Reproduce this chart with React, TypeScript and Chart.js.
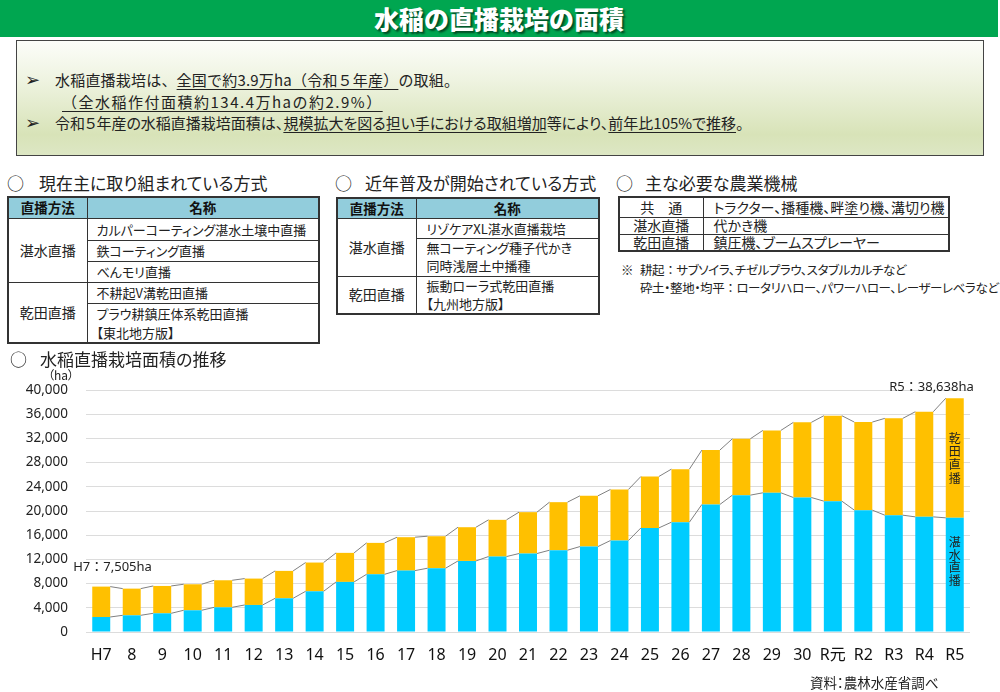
import React, { useEffect, useRef } from "react";
import { Chart, registerables } from "chart.js";

Chart.register(...registerables);

// ---- data ----
const years = ["H7", "8", "9", "10", "11", "12", "13", "14", "15", "16", "17", "18", "19", "20", "21", "22", "23", "24", "25", "26", "27", "28", "29", "30", "R元", "R2", "R3", "R4", "R5"];
// 湛水直播 (ha)
const tanzui = [2480, 2760, 3090, 3590, 4080, 4470, 5570, 6730, 8280, 9540, 10150, 10540, 11750, 12470, 12970, 13520, 14120, 15120, 17210, 18150, 21080, 22620, 23010, 22230, 21630, 20140, 19310, 19030, 18870];
// 乾田直播 (ha)
const kanden = [5025, 4410, 4520, 4300, 4470, 4360, 4530, 4750, 4800, 5190, 5520, 5290, 5570, 6070, 6840, 7940, 8390, 8440, 8500, 8770, 8990, 9320, 10310, 12420, 14120, 14560, 16000, 17380, 19768];
const yMax = 40000;
const yStep = 4000;
const firstNote = "H7：7,505ha";
const lastNote = "R5：38,638ha";
const kandenLabel = "乾田直播";
const tanzuiLabel = "湛水直播";

const JP = "'Noto Sans CJK JP', 'Noto Sans', sans-serif";
const NUM = "'Noto Sans', 'Noto Sans CJK JP', sans-serif";

const connectorPlugin = {
  id: "connectors",
  afterDatasetsDraw(chart: any) {
    const ctx = chart.ctx;
    ctx.save();
    ctx.strokeStyle = "#808080";
    ctx.lineWidth = 1;
    for (let d = 0; d < 2; d++) {
      const els = chart.getDatasetMeta(d).data;
      ctx.beginPath();
      for (let i = 0; i < els.length - 1; i++) {
        const a = els[i];
        const b = els[i + 1];
        ctx.moveTo(a.x + a.width / 2, a.y);
        ctx.lineTo(b.x - b.width / 2, b.y);
      }
      ctx.stroke();
    }
    ctx.restore();
  },
};

const notePlugin = {
  id: "notes",
  afterDraw(chart: any) {
    const ctx = chart.ctx;
    const top = chart.getDatasetMeta(1).data;
    const bot = chart.getDatasetMeta(0).data;
    const first = top[0];
    const last = top[top.length - 1];
    const lastB = bot[bot.length - 1];
    ctx.save();
    ctx.fillStyle = "#222";
    ctx.textBaseline = "middle";
    ctx.font = `13px ${NUM}`;
    ctx.textAlign = "left";
    ctx.fillText(firstNote, first.x - 28, first.y - 19);
    ctx.textAlign = "right";
    ctx.fillText(lastNote, last.x + 19, last.y - 11);
    ctx.textAlign = "center";
    ctx.font = `12px ${JP}`;
    const c1 = (last.y + last.base) / 2;
    for (let i = 0; i < kandenLabel.length; i++) {
      ctx.fillText(kandenLabel[i], last.x, c1 + (i - 1.5) * 13.3);
    }
    const c2 = (lastB.y + lastB.base) / 2 - 13;
    for (let i = 0; i < tanzuiLabel.length; i++) {
      ctx.fillText(tanzuiLabel[i], lastB.x, c2 + (i - 1.5) * 12.5);
    }
    ctx.restore();
  },
};

function BarChart() {
  const ref = useRef<HTMLCanvasElement | null>(null);
  useEffect(() => {
    if (!ref.current) return;
    const chart = new Chart(ref.current, {
      type: "bar",
      data: {
        labels: years,
        datasets: [
          { label: tanzuiLabel, data: tanzui, backgroundColor: "#00CCFF", barPercentage: 0.59, categoryPercentage: 1 },
          { label: kandenLabel, data: kanden, backgroundColor: "#FFC000", barPercentage: 0.59, categoryPercentage: 1 },
        ],
      },
      options: {
        animation: false,
        responsive: false,
        maintainAspectRatio: false,
        layout: { padding: { top: 30, right: 30, bottom: 0, left: 0 } },
        plugins: { legend: { display: false }, tooltip: { enabled: false } },
        scales: {
          x: {
            stacked: true,
            grid: { display: false, drawTicks: false },
            border: { display: false },
            ticks: { color: "#111", font: { family: NUM, size: 16 }, padding: 14, maxRotation: 0, autoSkip: false },
            afterFit: (s: any) => { s.height = 60; },
          },
          y: {
            stacked: true,
            min: 0,
            max: yMax,
            ticks: {
              stepSize: yStep,
              color: "#222",
              font: { family: NUM, size: 13.5 },
              padding: 18,
              callback: (v: any) => Number(v).toLocaleString("en-US"),
            },
            grid: { color: "#dcdcdc", drawTicks: false, lineWidth: 1 },
            border: { display: false },
            afterFit: (s: any) => { s.width = 86; },
          },
        },
      } as any,
      plugins: [connectorPlugin, notePlugin],
    });
    return () => chart.destroy();
  }, []);
  return <canvas ref={ref} width={1000} height={332} style={{ position: "absolute", left: 0, top: 360, width: 1000, height: 332 }} />;
}

const cell: React.CSSProperties = { border: "1px solid #333", padding: 0, fontSize: 13, color: "#222", whiteSpace: "nowrap", overflow: "visible" };
const head: React.CSSProperties = { ...cell, fontSize: 13.5, background: "#92CDDC", fontWeight: 700, textAlign: "center", color: "#111" };

function SectionTitle({ x, cx, y, text }: { x: number; cx: number; y: number; text: string }) {
  return (
    <>
      <div style={{ position: "absolute", left: cx, top: y - 11, fontSize: 17, lineHeight: "22px", color: "#222", fontFamily: JP }}>○</div>
      <div style={{ position: "absolute", left: x, top: y - 11, fontSize: 17, lineHeight: "22px", color: "#222", fontFamily: JP, whiteSpace: "nowrap", fontFeatureSettings: "'palt'" }}>{text}</div>
    </>
  );
}

const U = ({ children }: { children: React.ReactNode }) => (
  <span style={{ textDecoration: "underline", textUnderlineOffset: "3px" }}>{children}</span>
);

export default function App() {
  const lineStyle = (y: number, x: number): React.CSSProperties => ({
    position: "absolute", left: x, top: y - 11, lineHeight: "22px", fontSize: 15, color: "#222", whiteSpace: "nowrap",
  });
  const bullet: React.CSSProperties = { fontFamily: "'DejaVu Sans', sans-serif", fontSize: 18, color: "#222" };
  const note: React.CSSProperties = { position: "absolute", left: 640, fontSize: 12.5, lineHeight: "18px", color: "#222", whiteSpace: "nowrap", fontFeatureSettings: "'palt'", letterSpacing: "-0.4px" };
  return (
    <div style={{ position: "fixed", left: 0, top: 0, width: 1000, height: 692, background: "#fff", overflow: "hidden", fontFamily: JP }}>
      {/* header */}
      <div style={{ position: "absolute", left: 0, top: 0, width: 998, height: 37, background: "#00A650", color: "#fff", fontSize: 25, fontWeight: 900, textAlign: "center", lineHeight: "37px", textShadow: "2px 2px 2px rgba(0,0,0,0.55)" }}>
        水稲の直播栽培の面積
      </div>
      {/* summary box */}
      <div style={{ position: "absolute", left: 16, top: 40, width: 968, height: 116, boxSizing: "border-box", border: "1px solid #444", background: "linear-gradient(to bottom, #fcfdf9 0%, #eef3e0 35%, #d8e3b8 82%, #dde7c4 100%)" }} />
      <div style={{ ...lineStyle(80, 25), ...bullet }}>➢</div>
      <div style={{ ...lineStyle(80, 55), letterSpacing: "0.2px" }}>水稲直播栽培は、<U>全国で約3.9万ha（令和５年産）</U>の取組。</div>
      <div style={{ ...lineStyle(102, 62), letterSpacing: "1.5px" }}><U>（全水稲作付面積約134.4万haの約2.9%）</U></div>
      <div style={{ ...lineStyle(123, 25), ...bullet }}>➢</div>
      <div style={{ ...lineStyle(123, 55), fontFeatureSettings: "'palt'" }}>令和５年産の水稲直播栽培面積は、<U>規模拡大を図る担い手における取組増加</U>等により、<U>前年比105%で推移</U>。</div>

      {/* section titles */}
      <SectionTitle cx={7} x={39} y={183} text="現在主に取り組まれている方式" />
      <SectionTitle cx={335} x={365} y={183} text="近年普及が開始されている方式" />
      <SectionTitle cx={616} x={645} y={183} text="主な必要な農業機械" />

      {/* table 1 */}
      <table style={{ position: "absolute", left: 7, top: 196, width: 311, borderCollapse: "collapse", tableLayout: "fixed", border: "2px solid #333", fontFeatureSettings: "'palt'", lineHeight: "17px" }}>
        <colgroup><col style={{ width: 79 }} /><col style={{ width: 232 }} /></colgroup>
        <tbody>
          <tr style={{ height: 21 }}><td style={head}>直播方法</td><td style={head}>名称</td></tr>
          <tr style={{ height: 22 }}><td rowSpan={3} style={{ ...cell, fontSize: 14, textAlign: "center" }}>湛水直播</td><td style={{ ...cell, paddingLeft: 9 }}>カルパーコーティング湛水土壌中直播</td></tr>
          <tr style={{ height: 21 }}><td style={{ ...cell, paddingLeft: 9 }}>鉄コーティング直播</td></tr>
          <tr style={{ height: 21 }}><td style={{ ...cell, paddingLeft: 9 }}>べんモリ直播</td></tr>
          <tr style={{ height: 21 }}><td rowSpan={2} style={{ ...cell, fontSize: 14, textAlign: "center" }}>乾田直播</td><td style={{ ...cell, paddingLeft: 9 }}>不耕起V溝乾田直播</td></tr>
          <tr style={{ height: 39 }}><td style={{ ...cell, paddingLeft: 9, lineHeight: "19px" }}>プラウ耕鎮圧体系乾田直播<br />【東北地方版】</td></tr>
        </tbody>
      </table>

      {/* table 2 */}
      <table style={{ position: "absolute", left: 336, top: 197, width: 262, borderCollapse: "collapse", tableLayout: "fixed", border: "2px solid #333", fontFeatureSettings: "'palt'", lineHeight: "17px" }}>
        <colgroup><col style={{ width: 79 }} /><col style={{ width: 183 }} /></colgroup>
        <tbody>
          <tr style={{ height: 20 }}><td style={head}>直播方法</td><td style={head}>名称</td></tr>
          <tr style={{ height: 20 }}><td rowSpan={2} style={{ ...cell, fontSize: 14, textAlign: "center" }}>湛水直播</td><td style={{ ...cell, paddingLeft: 10 }}>リゾケアXL湛水直播栽培</td></tr>
          <tr style={{ height: 38 }}><td style={{ ...cell, paddingLeft: 10, lineHeight: "18px" }}>無コーティング種子代かき<br />同時浅層土中播種</td></tr>
          <tr style={{ height: 38 }}><td style={{ ...cell, fontSize: 14, textAlign: "center" }}>乾田直播</td><td style={{ ...cell, paddingLeft: 10, lineHeight: "18px" }}>振動ローラ式乾田直播<br />【九州地方版】</td></tr>
        </tbody>
      </table>

      {/* table 3 */}
      <table style={{ position: "absolute", left: 618, top: 196, width: 330, borderCollapse: "collapse", tableLayout: "fixed", border: "2px solid #333", fontFeatureSettings: "'palt'", lineHeight: "15px" }}>
        <colgroup><col style={{ width: 84 }} /><col style={{ width: 246 }} /></colgroup>
        <tbody>
          <tr style={{ height: 20 }}><td style={{ ...cell, fontSize: 14, textAlign: "center" }}>共　通</td><td style={{ ...cell, fontSize: 14, paddingLeft: 10 }}>トラクター、播種機、畔塗り機、溝切り機</td></tr>
          <tr style={{ height: 17 }}><td style={{ ...cell, fontSize: 14, textAlign: "center" }}>湛水直播</td><td style={{ ...cell, fontSize: 14, paddingLeft: 10 }}>代かき機</td></tr>
          <tr style={{ height: 17 }}><td style={{ ...cell, fontSize: 14, textAlign: "center" }}>乾田直播</td><td style={{ ...cell, fontSize: 14, paddingLeft: 10 }}>鎮圧機、ブームスプレーヤー</td></tr>
        </tbody>
      </table>
      <div style={{ position: "absolute", left: 621, top: 261, fontSize: 12.5, lineHeight: "18px", color: "#222" }}>※</div>
      <div style={{ ...note, top: 261 }}>耕起<span style={{ fontFeatureSettings: "normal" }}>：</span>サブソイラ、チゼルプラウ、スタブルカルチなど</div>
      <div style={{ ...note, top: 279 }}>砕土・整地・均平<span style={{ fontFeatureSettings: "normal" }}>：</span>ロータリハロー、パワーハロー、レーザーレベラなど</div>

      {/* chart */}
      <BarChart />
      <SectionTitle cx={10} x={40} y={359} text="水稲直播栽培面積の推移" />
      <div style={{ position: "absolute", left: 48, top: 368, fontSize: 12, lineHeight: "14px", color: "#222", fontFeatureSettings: "'palt'" }}>（ha）</div>
      <div style={{ position: "absolute", left: 810, top: 673, fontSize: 13.5, lineHeight: "18px", color: "#222", whiteSpace: "nowrap", fontFeatureSettings: "'palt'" }}>資料：農林水産省調べ</div>
    </div>
  );
}
